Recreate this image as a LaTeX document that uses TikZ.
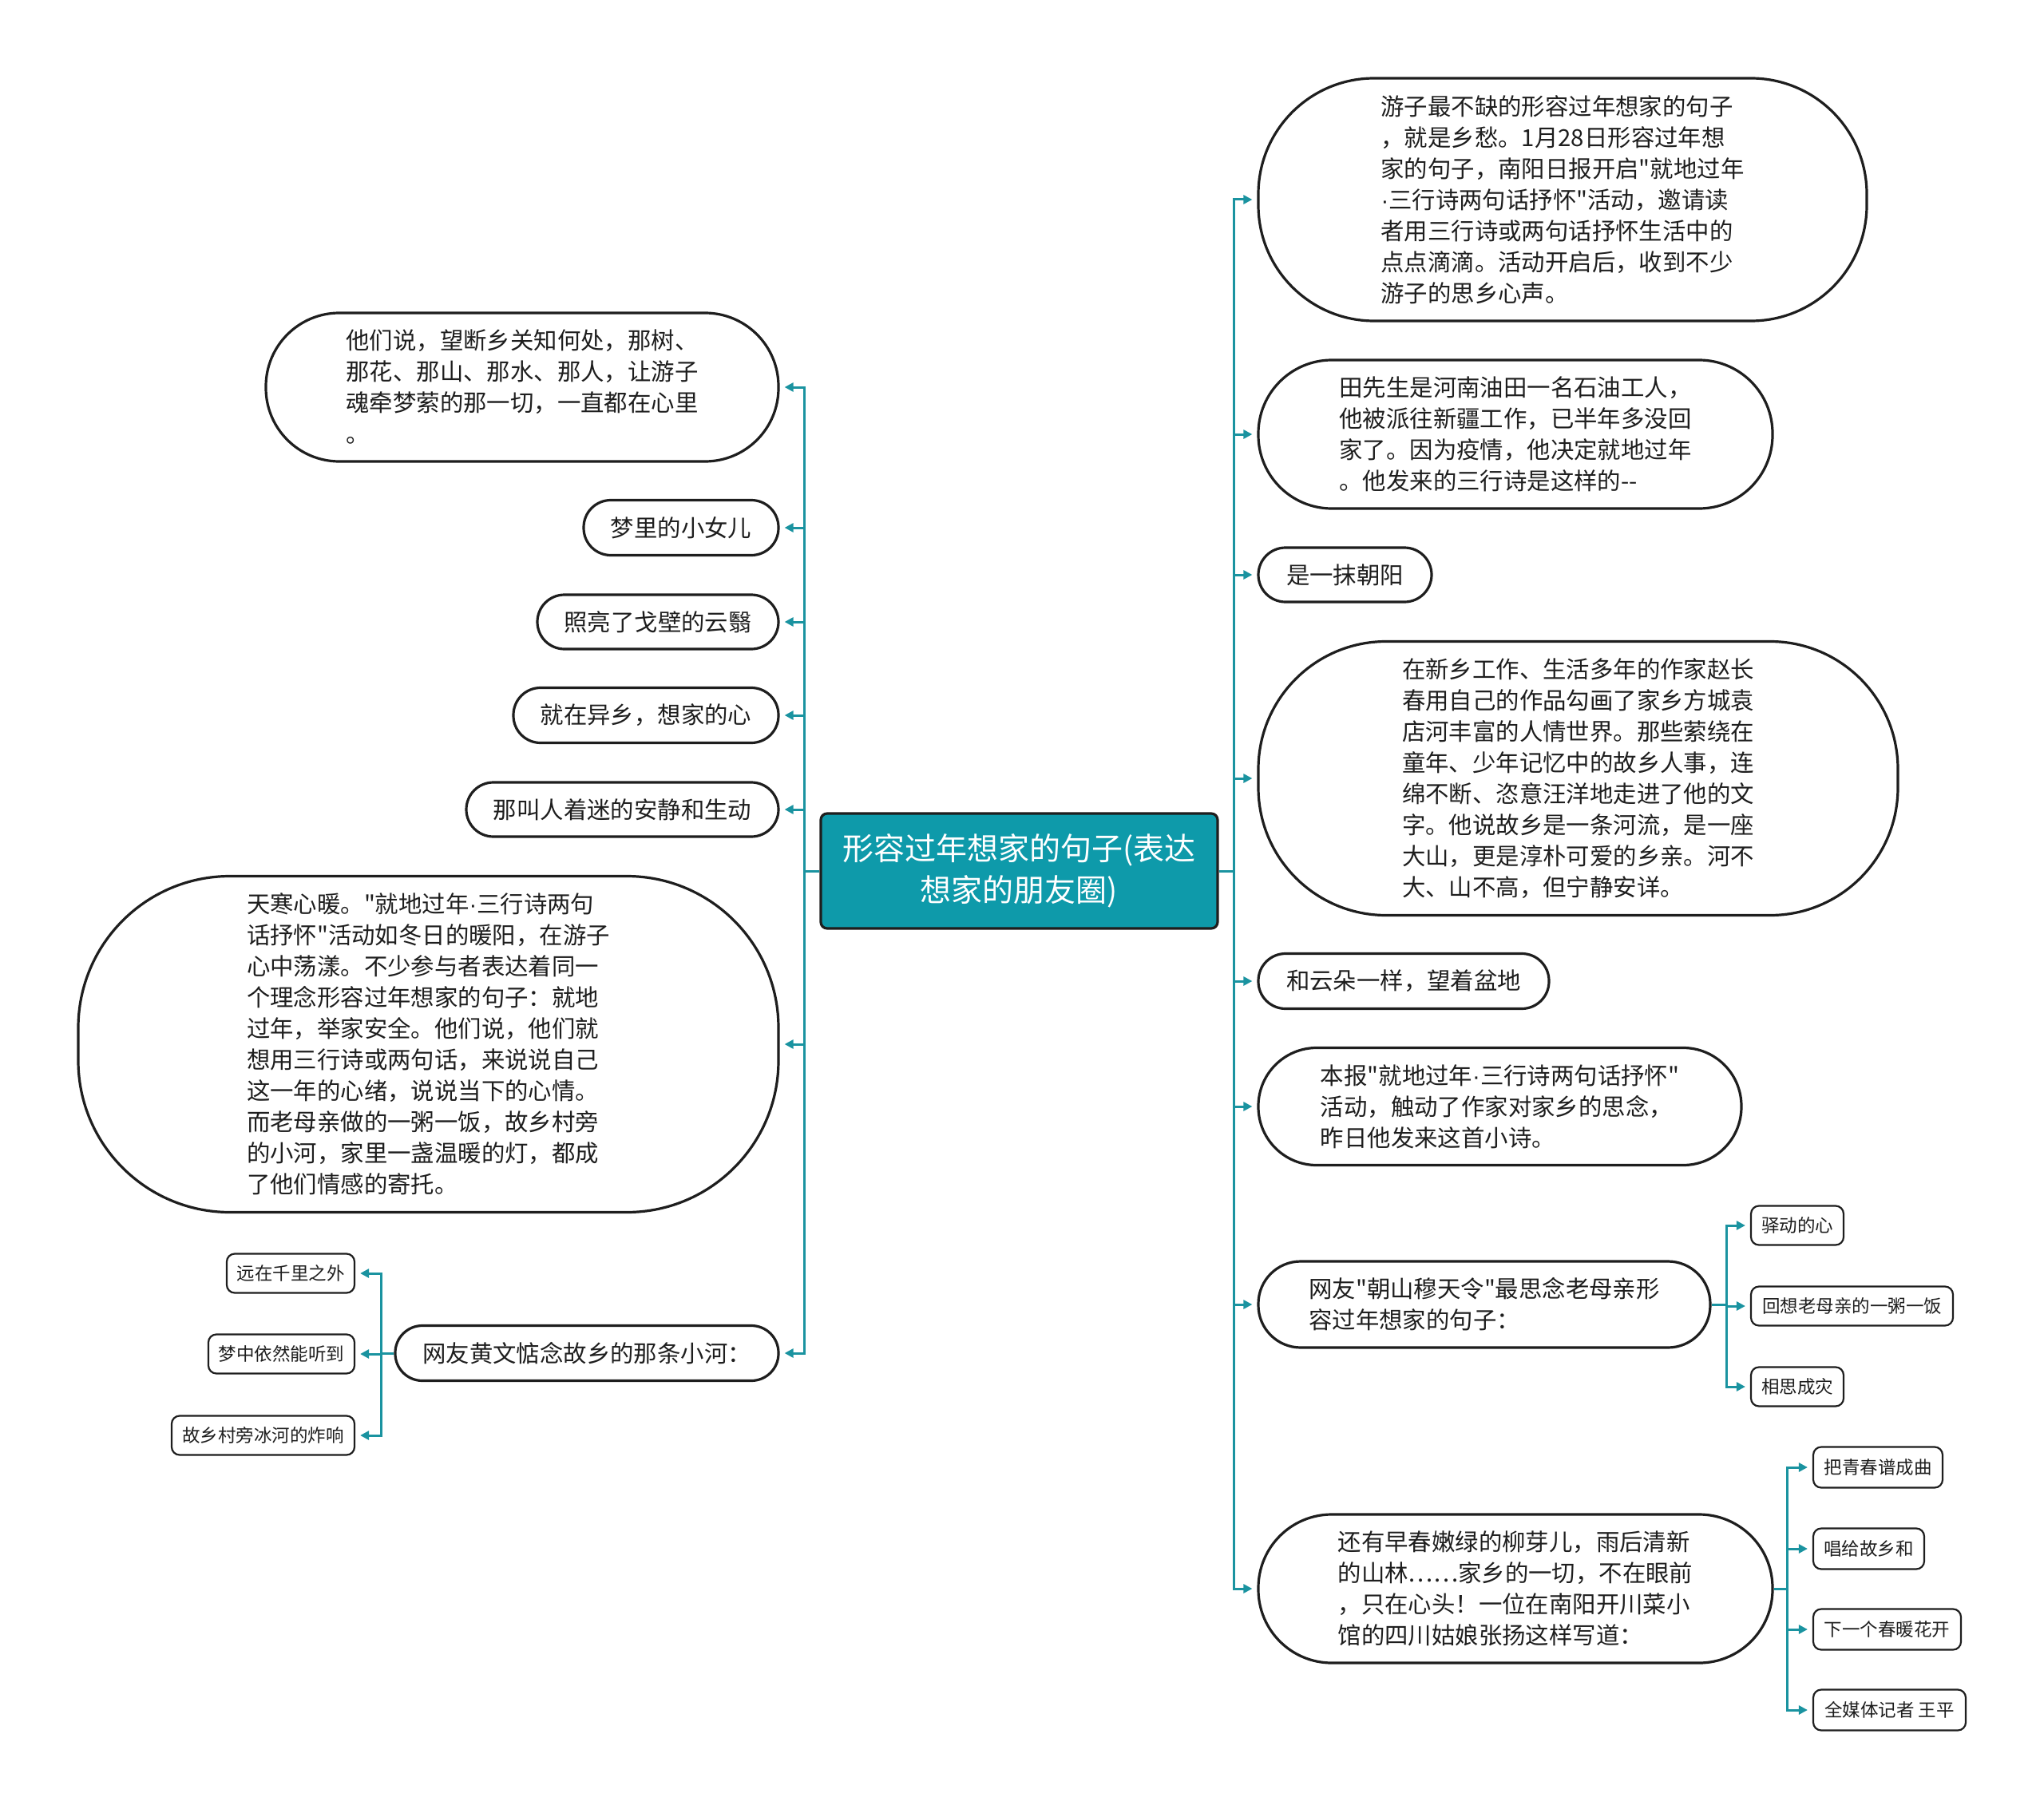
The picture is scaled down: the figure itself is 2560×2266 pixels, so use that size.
\documentclass[tikz,border=0pt]{standalone}
\usepackage{fontspec}
\newfontfamily\cjk{Noto Sans CJK SC}
\newfontfamily\latf{Liberation Sans}
\newcommand\mydotx{{\latf ·}}
\usetikzlibrary{arrows.meta}
\definecolor{teal1}{HTML}{0E9AAA}
\definecolor{tealline}{HTML}{1A93A0}
\definecolor{ink}{HTML}{1E1E1E}
\begin{document}
\begin{tikzpicture}[x=1pt,y=-1pt,
 topic/.style={draw=ink, text=ink, font=\cjk\fontsize{29.4}{39}\selectfont, align=left, inner sep=0pt, line width=3.2pt, rounded corners=#1},
 root/.style={draw=ink, fill=teal1, text=white, font=\cjk\fontsize{39}{52}\selectfont, align=center, rounded corners=8pt, line width=3.2pt, inner sep=0pt},
 leaf/.style={draw=ink, text=ink, font=\cjk\fontsize{22.5}{30}\selectfont, rounded corners=10pt, line width=2.2pt, inner sep=0pt, minimum height=49pt},
 conn/.style={draw=tealline, line width=3pt, -{Triangle[length=11pt,width=11pt]}, shorten >=6pt},
]
\fill[white] (0,0) rectangle (2560,2266);
\useasboundingbox (0,0) rectangle (2560,2266);

% root
\node[root, minimum width=497pt, minimum height=144pt] (C) at (1276.5,1091) {形容过年想家的句子(表达\\想家的朋友圈)};

% left branch
\node[topic=92, minimum width=642pt, minimum height=186pt] (L1) at (654,485) {他们说，望断乡关知何处，那树、\\那花、那山、那水、那人，让游子\\魂牵梦萦的那一切，一直都在心里\\。};
\node[topic=34, minimum width=244pt, minimum height=69pt] (L2) at (853,661) {梦里的小女儿};
\node[topic=34, minimum width=302pt, minimum height=68pt] (L3) at (824,779) {照亮了戈壁的云翳};
\node[topic=34, minimum width=332pt, minimum height=69pt] (L4) at (809,896) {就在异乡，想家的心};
\node[topic=34, minimum width=391pt, minimum height=68pt] (L5) at (779.5,1014) {那叫人着迷的安静和生动};
\node[topic=190, minimum width=877pt, minimum height=421pt] (L6) at (536.5,1308) {天寒心暖。"就地过年\mydotx 三行诗两句\\话抒怀"活动如冬日的暖阳，在游子\\心中荡漾。不少参与者表达着同一\\个理念形容过年想家的句子：就地\\过年，举家安全。他们说，他们就\\想用三行诗或两句话，来说说自己\\这一年的心绪，说说当下的心情。\\而老母亲做的一粥一饭，故乡村旁\\的小河，家里一盏温暖的灯，都成\\了他们情感的寄托。};
\node[topic=34, minimum width=480pt, minimum height=69pt] (L7) at (735,1695) {网友黄文惦念故乡的那条小河：};

\node[leaf, minimum width=160pt] (L7a) at (364,1595) {远在千里之外};
\node[leaf, minimum width=183pt] (L7b) at (352.5,1696) {梦中依然能听到};
\node[leaf, minimum width=229pt] (L7c) at (329.5,1798) {故乡村旁冰河的炸响};

% right branch
\node[topic=145, minimum width=762pt, minimum height=304pt] (R1) at (1957,250) {游子最不缺的形容过年想家的句子\\，就是乡愁。1月28日形容过年想\\家的句子，南阳日报开启"就地过年\\\mydotx 三行诗两句话抒怀"活动，邀请读\\者用三行诗或两句话抒怀生活中的\\点点滴滴。活动开启后，收到不少\\游子的思乡心声。};
\node[topic=92, minimum width=644pt, minimum height=186pt] (R2) at (1898,544) {田先生是河南油田一名石油工人，\\他被派往新疆工作，已半年多没回\\家了。因为疫情，他决定就地过年\\。他发来的三行诗是这样的-{}-};
\node[topic=34, minimum width=217pt, minimum height=68pt] (R3) at (1684.5,720) {是一抹朝阳};
\node[topic=160, minimum width=801pt, minimum height=343pt] (R4) at (1976.5,975) {在新乡工作、生活多年的作家赵长\\春用自己的作品勾画了家乡方城袁\\店河丰富的人情世界。那些萦绕在\\童年、少年记忆中的故乡人事，连\\绵不断、恣意汪洋地走进了他的文\\字。他说故乡是一条河流，是一座\\大山，更是淳朴可爱的乡亲。河不\\大、山不高，但宁静安详。};
\node[topic=34, minimum width=364pt, minimum height=69pt] (R5) at (1758,1229) {和云朵一样，望着盆地};
\node[topic=73, minimum width=605pt, minimum height=147pt] (R6) at (1878.5,1386) {本报"就地过年\mydotx 三行诗两句话抒怀"\\活动，触动了作家对家乡的思念，\\昨日他发来这首小诗。};
\node[topic=53, minimum width=566pt, minimum height=108pt] (R7) at (1859,1634) {网友"朝山穆天令"最思念老母亲形\\容过年想家的句子：};
\node[topic=92, minimum width=644pt, minimum height=186pt] (R8) at (1898,1990) {还有早春嫩绿的柳芽儿，雨后清新\\的山林……家乡的一切，不在眼前\\，只在心头！一位在南阳开川菜小\\馆的四川姑娘张扬这样写道：};

\node[leaf, minimum width=116pt] (R7a) at (2251,1535) {驿动的心};
\node[leaf, minimum width=253pt] (R7b) at (2319.5,1636) {回想老母亲的一粥一饭};
\node[leaf, minimum width=116pt] (R7c) at (2251,1737) {相思成灾};

\node[leaf, minimum width=162pt, minimum height=51pt] (R8a) at (2352,1838) {把青春谱成曲};
\node[leaf, minimum width=139pt, minimum height=51pt] (R8b) at (2340.5,1940) {唱给故乡和};
\node[leaf, minimum width=185pt, minimum height=51pt] (R8c) at (2363.5,2041) {下一个春暖花开};
\node[leaf, minimum width=191pt, minimum height=51pt] (R8d) at (2366.5,2142) {全媒体记者 王平};

% trunks
\coordinate (TL) at (1007,1091);
\coordinate (TR) at (1545,1091);
\coordinate (T7) at (477,1695);
\coordinate (TR7) at (2162,1634);
\coordinate (TR8) at (2238,1990);

\foreach \n in {L1,L2,L3,L4,L5,L6,L7}
  \draw[conn] (C.west) -- (C.west -| TL) |- (\n.east);
\foreach \n in {R1,R2,R3,R4,R5,R6,R7,R8}
  \draw[conn] (C.east) -- (C.east -| TR) |- (\n.west);
\foreach \n in {L7a,L7b,L7c}
  \draw[conn] (L7.west) -- (L7.west -| T7) |- (\n.east);
\foreach \n in {R7a,R7b,R7c}
  \draw[conn] (R7.east) -- (R7.east -| TR7) |- (\n.west);
\foreach \n in {R8a,R8b,R8c,R8d}
  \draw[conn] (R8.east) -- (R8.east -| TR8) |- (\n.west);
\end{tikzpicture}
\end{document}
